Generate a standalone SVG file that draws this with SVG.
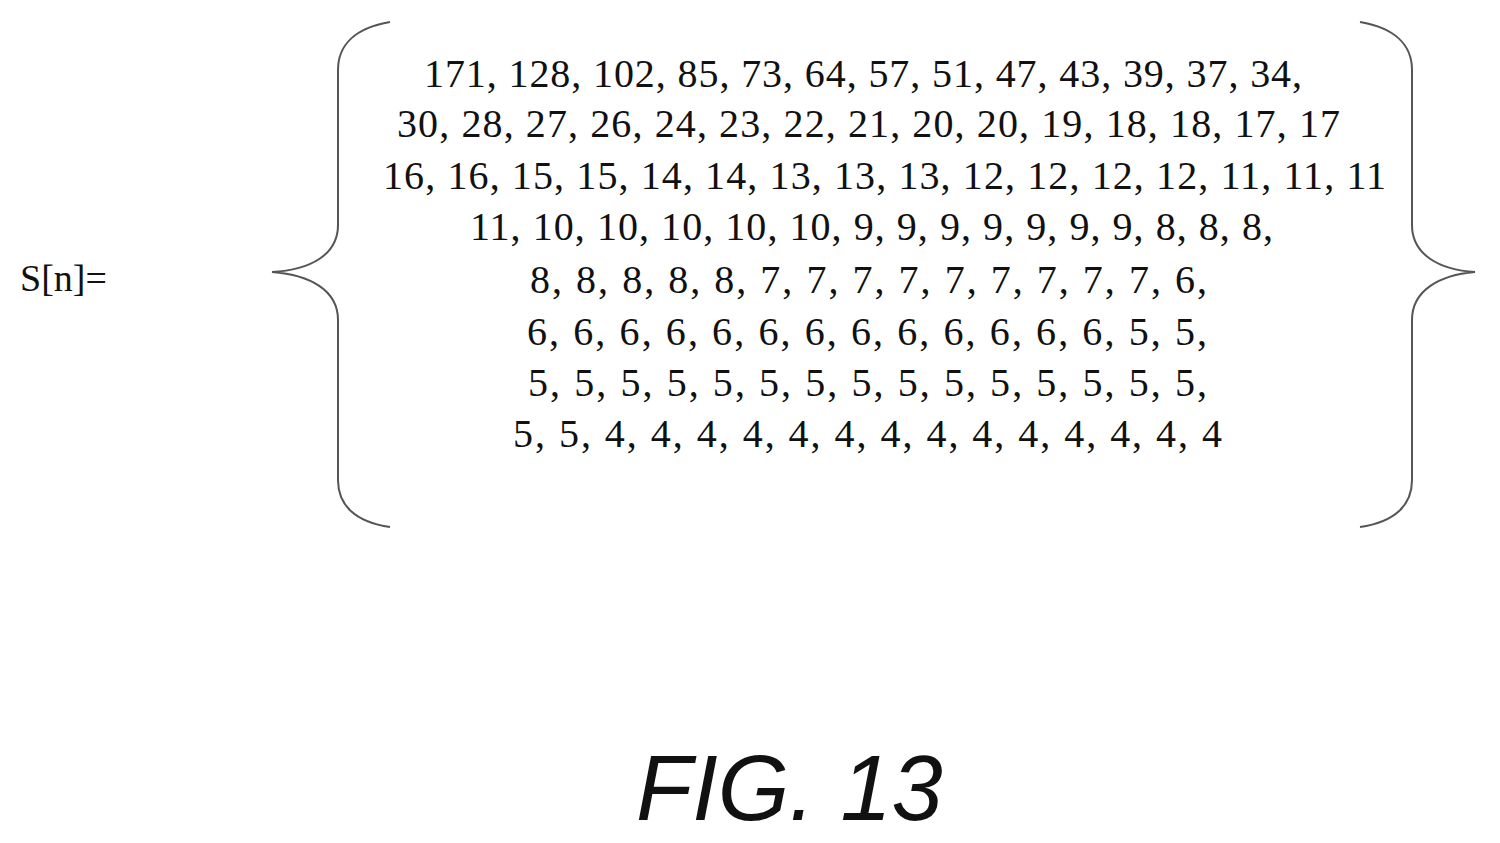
<svg xmlns="http://www.w3.org/2000/svg" width="1500" height="843" viewBox="0 0 1500 843">
<style>
.t{font-family:"Liberation Serif",serif;font-size:40px;fill:#111}
.b{fill:none;stroke:#555;stroke-width:2}
</style>
<rect width="1500" height="843" fill="#fff"/>
<g id="label"><text class="t" x="20" y="291" style="font-size:38px">S[n]=</text></g>
<g id="braces">
<path class="b" d="M390,22 C355,28 338,45 338,70 L338,225 C338,255 310,270 272,272 C310,275 338,290 338,320 L338,480 C338,505 355,522 390,527"/>
<path class="b" d="M1360,22 C1395,28 1412,45 1412,70 L1412,225 C1412,255 1440,270 1475,272 C1440,275 1412,290 1412,320 L1412,480 C1412,505 1395,522 1360,527"/>
</g>
<g id="values">
<text class="t" x="424" y="87" textLength="878">171, 128, 102, 85, 73, 64, 57, 51, 47, 43, 39, 37, 34,</text>
<text class="t" x="397" y="137" textLength="943">30, 28, 27, 26, 24, 23, 22, 21, 20, 20, 19, 18, 18, 17, 17</text>
<text class="t" x="383" y="189" textLength="1003">16, 16, 15, 15, 14, 14, 13, 13, 13, 12, 12, 12, 12, 11, 11, 11</text>
<text class="t" x="470" y="240" textLength="803">11, 10, 10, 10, 10, 10, 9, 9, 9, 9, 9, 9, 9, 8, 8, 8,</text>
<text class="t" x="530" y="293" textLength="677">8, 8, 8, 8, 8, 7, 7, 7, 7, 7, 7, 7, 7, 7, 6,</text>
<text class="t" x="527" y="345" textLength="680">6, 6, 6, 6, 6, 6, 6, 6, 6, 6, 6, 6, 6, 5, 5,</text>
<text class="t" x="528" y="396" textLength="679">5, 5, 5, 5, 5, 5, 5, 5, 5, 5, 5, 5, 5, 5, 5,</text>
<text class="t" x="513" y="447" textLength="709">5, 5, 4, 4, 4, 4, 4, 4, 4, 4, 4, 4, 4, 4, 4, 4</text>
</g>
<g id="caption"><text x="636" y="820" style="font-family:'Liberation Sans',sans-serif;font-style:italic;font-size:92px;fill:#111">FIG. 13</text></g>
</svg>
